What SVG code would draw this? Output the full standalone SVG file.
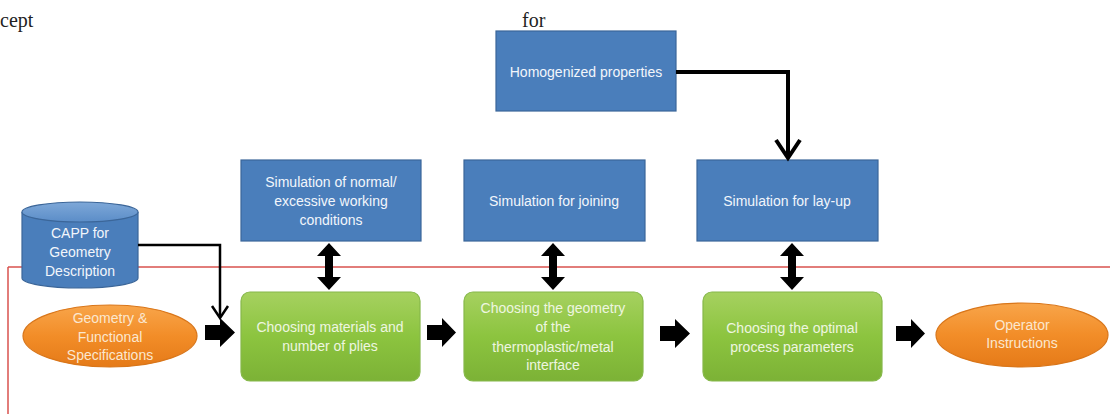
<svg xmlns="http://www.w3.org/2000/svg" width="1110" height="414" viewBox="0 0 1110 414">
<style>
.pg{font-family:"Liberation Serif","Times New Roman",serif;font-size:20px;fill:#222}
.t{font-family:"Liberation Sans",Arial,sans-serif;font-size:14px;text-anchor:middle}
.tb{fill:#f2f6fb}
.tg{fill:#eef6e0}
.to{fill:#fbe7cf}
.blue{fill:#4a7ebb;stroke:#3b6699;stroke-width:1.2}
.green{fill:url(#gg);stroke:#86b84a;stroke-width:1.2}
.orange{fill:url(#og);stroke:#d9761a;stroke-width:1.2}
.blk{fill:#000}
.ln{fill:none;stroke:#000;stroke-linejoin:miter}
</style>
<defs>
<linearGradient id="gg" x1="0" y1="0" x2="0" y2="1">
<stop offset="0" stop-color="#a6d160"/>
<stop offset="0.5" stop-color="#8cc43f"/>
<stop offset="1" stop-color="#7cb236"/>
</linearGradient>
<linearGradient id="og" x1="0" y1="0" x2="0" y2="1">
<stop offset="0" stop-color="#f8a54a"/>
<stop offset="0.5" stop-color="#f28d28"/>
<stop offset="1" stop-color="#e57a18"/>
</linearGradient>
<linearGradient id="bg" x1="0" y1="0" x2="0" y2="1">
<stop offset="0" stop-color="#7ea8d8"/>
<stop offset="1" stop-color="#5b8dc8"/>
</linearGradient>
</defs>
<rect width="1110" height="414" fill="#fff"/>
<text class="pg" x="0" y="27">cept</text>
<text class="pg" x="522" y="27">for</text>

<g id="frame">
<path d="M8 267 H1110 M8 267 V414" fill="none" stroke="#d9534f" stroke-width="1.5"/>
</g>

<g id="homogenized">
<rect class="blue" x="496" y="31" width="180" height="80"/>
<text class="t tb" x="586" y="77">Homogenized properties</text>
</g>
<g id="sim-normal">
<rect class="blue" x="241" y="160" width="180" height="81"/>
<text class="t tb" x="331" y="187">Simulation of normal/</text>
<text class="t tb" x="331" y="206">excessive working</text>
<text class="t tb" x="331" y="225">conditions</text>
</g>
<g id="sim-joining">
<rect class="blue" x="464" y="160" width="181" height="81"/>
<text class="t tb" x="554" y="206">Simulation for joining</text>
</g>
<g id="sim-layup">
<rect class="blue" x="697" y="160" width="181" height="81"/>
<text class="t tb" x="787" y="206">Simulation for lay-up</text>
</g>
<g id="capp">
<path class="blue" d="M22 212 V278 A58 10 0 0 0 138 278 V212"/>
<ellipse cx="80" cy="212" rx="58" ry="10" fill="url(#bg)" stroke="#3b6699" stroke-width="1.2"/>
<text class="t tb" x="80" y="238">CAPP for</text>
<text class="t tb" x="80" y="257">Geometry</text>
<text class="t tb" x="80" y="276">Description</text>
</g>
<g id="geometry-spec">
<ellipse class="orange" cx="110" cy="336" rx="87" ry="31"/>
<text class="t to" x="110" y="323">Geometry &amp;</text>
<text class="t to" x="110" y="342">Functional</text>
<text class="t to" x="110" y="360">Specifications</text>
</g>
<g id="choose-materials">
<rect class="green" x="241" y="292" width="179" height="89" rx="9"/>
<text class="t tg" x="330" y="332">Choosing materials and</text>
<text class="t tg" x="330" y="351">number of plies</text>
</g>
<g id="choose-geometry">
<rect class="green" x="464" y="292" width="179" height="89" rx="9"/>
<text class="t tg" x="553" y="313">Choosing the geometry</text>
<text class="t tg" x="553" y="332">of the</text>
<text class="t tg" x="553" y="352">thermoplastic/metal</text>
<text class="t tg" x="553" y="370">interface</text>
</g>
<g id="choose-process">
<rect class="green" x="703" y="292" width="179" height="89" rx="9"/>
<text class="t tg" x="792" y="333">Choosing the optimal</text>
<text class="t tg" x="792" y="352">process parameters</text>
</g>
<g id="operator">
<ellipse class="orange" cx="1022" cy="335" rx="86" ry="32"/>
<text class="t to" x="1022" y="330">Operator</text>
<text class="t to" x="1022" y="348">Instructions</text>
</g>

<g id="connectors">
<path class="ln" stroke-width="4" d="M676 72 H788 V157"/>
<path class="ln" stroke-width="4" d="M776 140 L788 158 L800 140"/>
<path class="ln" stroke-width="2.5" d="M138 245 H220 V316"/>
<path class="ln" stroke-width="2.5" d="M212 306 L220 318 L228 306"/>
<path class="blk" d="M205 325 H220 V318 L235 332.5 L220 347 V340 H205 Z"/>
<path class="blk" d="M427 325 H442 V318 L456 332.5 L442 347 V340 H427 Z"/>
<path class="blk" d="M660 326 H675 V319 L690 333.5 L675 348 V341 H660 Z"/>
<path class="blk" d="M896 326 H911 V319 L925 333.5 L911 348 V341 H896 Z"/>
<path class="blk" d="M329 243 L341 256 H333 V277 H341 L329 290 L317 277 H325 V256 H317 Z"/>
<path class="blk" d="M553 243 L565 256 H557 V277 H565 L553 290 L541 277 H549 V256 H541 Z"/>
<path class="blk" d="M792 243 L804 256 H796 V277 H804 L792 290 L780 277 H788 V256 H780 Z"/>
</g>
</svg>
